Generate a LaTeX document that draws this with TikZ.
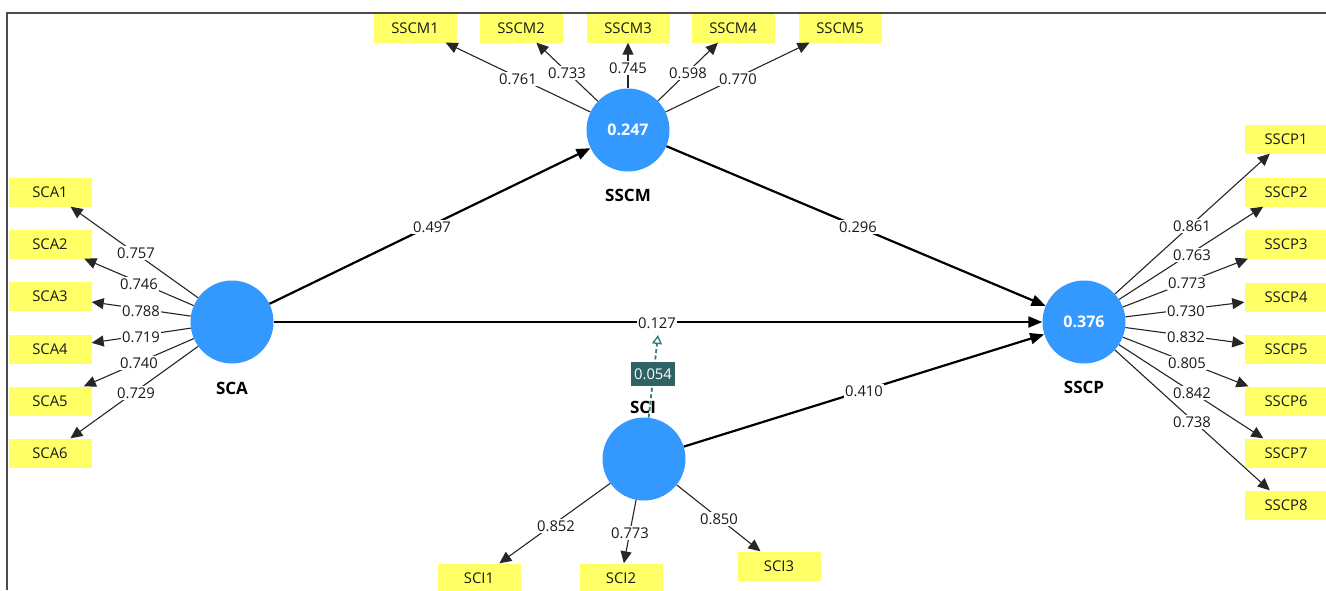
\documentclass[tikz,border=0pt]{standalone}
\usepackage{fontspec}
\setmainfont{Open Sans}
\usetikzlibrary{arrows.meta}
\definecolor{lvblue}{HTML}{3399FF}
\definecolor{mvyellow}{HTML}{FFFF66}
\definecolor{modfill}{HTML}{2F6262}
\definecolor{modline}{HTML}{3A7B7B}
\begin{document}
\begin{tikzpicture}[x=1pt,y=-1pt,
  every node/.style={font=\fontsize{14.8}{17}\selectfont},
  latent/.style={circle,fill=lvblue,minimum size=83pt,inner sep=0pt,text=white,
    font=\fontsize{16}{18}\selectfont\bfseries},
  indicator/.style={rectangle,fill=mvyellow,minimum width=83pt,minimum height=29pt,
    inner sep=0pt,text=black!90},
  lvname/.style={font=\fontsize{17}{19}\selectfont\bfseries,text=black},
  loading/.style={draw=black!85,line width=1.1pt,-{Triangle[length=12pt,width=11pt]}},
  structural/.style={draw=black,line width=2.2pt,-{Triangle[length=14pt,width=11pt]}},
  weight/.style={fill=white,inner sep=1.2pt,text=black!90},
  moderator/.style={draw=modline,line width=1.8pt,dash pattern=on 4pt off 2.5pt,
    -{Triangle[open,length=9pt,width=10pt,line width=1.4pt]}},
  modlabel/.style={fill=modfill,text=white,minimum width=44pt,minimum height=24pt,inner sep=0pt},
  frame/.style={draw=black!70,line width=1.8pt}
]
\useasboundingbox (0,0) rectangle (1326,590);
\fill[white] (0,0) rectangle (1326,590);
\draw[frame] (7,590) -- (7,13) -- (1326,13);

% latent variables
\node[latent] (SCA)  at (232,322) {};
\node[latent] (SSCM) at (628,130) {0.247};
\node[latent] (SSCP) at (1084,322) {0.376};
\node[latent] (SCI)  at (644,459) {};

\node[lvname] (SCAname)  at (232,388) {SCA};
\node[lvname] (SSCMname) at (628,195) {SSCM};
\node[lvname] (SSCPname) at (1084,387) {SSCP};

% indicators of SSCM
\node[indicator] (SSCM1) at (415,28) {SSCM1};
\node[indicator] (SSCM2) at (521,28) {SSCM2};
\node[indicator] (SSCM3) at (628,28) {SSCM3};
\node[indicator] (SSCM4) at (733,28) {SSCM4};
\node[indicator] (SSCM5) at (840,28) {SSCM5};

% indicators of SCA
\node[indicator] (SCA1) at (50,192) {SCA1};
\node[indicator] (SCA2) at (50,244) {SCA2};
\node[indicator] (SCA3) at (50,296) {SCA3};
\node[indicator] (SCA4) at (50,349) {SCA4};
\node[indicator] (SCA5) at (50,401) {SCA5};
\node[indicator] (SCA6) at (50,453) {SCA6};

% indicators of SSCP
\node[indicator] (SSCP1) at (1286,139) {SSCP1};
\node[indicator] (SSCP2) at (1286,192) {SSCP2};
\node[indicator] (SSCP3) at (1286,244) {SSCP3};
\node[indicator] (SSCP4) at (1286,297) {SSCP4};
\node[indicator] (SSCP5) at (1286,349) {SSCP5};
\node[indicator] (SSCP6) at (1286,401) {SSCP6};
\node[indicator] (SSCP7) at (1286,453) {SSCP7};
\node[indicator] (SSCP8) at (1286,505) {SSCP8};

% indicators of SCI
\node[indicator] (SCI1) at (479,578) {SCI1};
\node[indicator] (SCI2) at (621,578) {SCI2};
\node[indicator] (SCI3) at (779,566) {SCI3};

% outer loadings
\foreach \i in {1,...,5} \draw[loading] (SSCM) -- (SSCM\i);
\foreach \i in {1,...,6} \draw[loading] (SCA) -- (SCA\i);
\foreach \i in {1,...,8} \draw[loading] (SSCP) -- (SSCP\i);
\foreach \i in {1,...,3} \draw[loading] (SCI) -- (SCI\i);

% inner model
\draw[structural] (SCA) -- (SSCM);
\draw[structural] (SSCM) -- (SSCP);
\draw[structural] (SCA) -- (SSCP);
\draw[structural] (SCI) -- (SSCP);

% moderating effect
\coordinate (modtip) at (658,335);
\draw[moderator] (SCI) -- (modtip);
\node[modlabel] (modval) at (653,374) {0.054};
\node[lvname] (SCIname) at (643,407) {SCI};

% loading values
\node[weight] at (518,79) {0.761};
\node[weight] at (567,73) {0.733};
\node[weight] at (628,68) {0.745};
\node[weight] at (688,73) {0.598};
\node[weight] at (738,79) {0.770};

\node[weight] at (136,253) {0.757};
\node[weight] at (139,284) {0.746};
\node[weight] at (141,311) {0.788};
\node[weight] at (141,337) {0.719};
\node[weight] at (139,363) {0.740};
\node[weight] at (136,393) {0.729};

\node[weight] at (1192,226) {0.861};
\node[weight] at (1192,255) {0.763};
\node[weight] at (1187,283) {0.773};
\node[weight] at (1186,311) {0.730};
\node[weight] at (1186,337) {0.832};
\node[weight] at (1187,363) {0.805};
\node[weight] at (1192,393) {0.842};
\node[weight] at (1192,422) {0.738};

\node[weight] at (556,526) {0.852};
\node[weight] at (630,533) {0.773};
\node[weight] at (719,519) {0.850};

% path coefficients
\node[weight] at (432,227) {0.497};
\node[weight] at (858,227) {0.296};
\node[weight] at (657,323) {0.127};
\node[weight] at (864,391) {0.410};
\end{tikzpicture}
\end{document}
